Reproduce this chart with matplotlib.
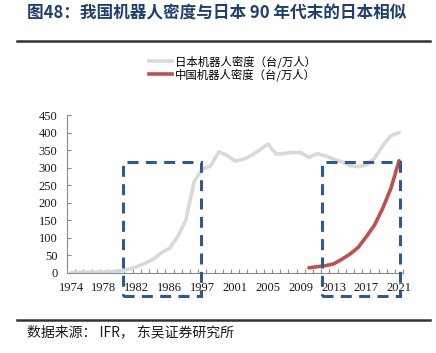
import matplotlib
matplotlib.use('Agg')
from matplotlib import pyplot as plt
from matplotlib.patches import Rectangle
from matplotlib.lines import Line2D
import numpy as np

plt.rcParams['font.family'] = ['Noto Sans CJK SC', 'DejaVu Sans']

TITLE = '图48：我国机器人密度与日本 90 年代末的日本相似'
SOURCE = '数据来源： IFR， 东吴证券研究所'
JAPAN_LABEL = '日本机器人密度（台/万人）'
CHINA_LABEL = '中国机器人密度（台/万人）'

# 41 categories: 1974..1988, 1996, 1997..2021
years = [str(y) for y in list(range(1974, 1987)) + [1987, 1988, 1996] + list(range(1997, 2022))]

japan_density = [0, 1, 1, 2, 2, 3, 5, 10, 17, 27, 38, 57, 70, 103, 151, 260,
                 296, 305, 345, 336, 319, 324, 335, 351, 368, 339, 341, 344,
                 343, 330, 340, 334, 325, 317, 306, 303, 308, 327, 363, 392, 400]
china_years = [str(y) for y in range(2010, 2022)]
china_density = [14, 17, 20, 25, 38, 53, 72, 103, 136, 184, 241, 320]

tick_years = ['1974', '1978', '1982', '1986', '1997', '2001', '2005', '2009',
              '2013', '2017', '2021']

# highlighted periods (category index range, value range)
box_ranges = [(6.3, 15.8), (30.6, 40.1)]
box_values = (-66, 316)

BOX_COLOR = '#2F5A8C'
GREY = '#D9D9D9'
RED = '#C0504D'


def main():
    fig = plt.figure(figsize=(4.36, 3.53), dpi=100)
    ax = fig.add_axes([67 / 436, 1 - 272.7 / 353, 336.2 / 436, 157.4 / 353])

    x_all = np.arange(len(years))
    china_x = [years.index(y) for y in china_years]

    ax.plot(x_all, japan_density, color=GREY, lw=2.6, solid_capstyle='round', zorder=2)
    ax.plot(china_x, china_density, color=RED, lw=2.6, solid_capstyle='round', zorder=3)

    for x0, x1 in box_ranges:
        rect = Rectangle((x0, box_values[0]), x1 - x0, box_values[1] - box_values[0],
                         fill=False, edgecolor=BOX_COLOR, lw=2.2,
                         linestyle=(0, (3.6, 2.4)), clip_on=False, zorder=4)
        ax.add_patch(rect)

    ax.set_xlim(-0.5, len(years) - 0.5)
    ax.set_ylim(0, 450)
    ax.set_yticks(range(0, 451, 50))
    ax.set_xticks([years.index(y) for y in tick_years])
    ax.set_xticklabels(tick_years)
    ax.set_xticks(np.arange(0.5, len(years), 1.0), minor=True)

    for sp in ['top', 'right']:
        ax.spines[sp].set_visible(False)
    for sp in ['left', 'bottom']:
        ax.spines[sp].set_color('#8C8C8C')
        ax.spines[sp].set_linewidth(0.8)

    ax.tick_params(axis='x', which='major', length=0, pad=7)
    ax.tick_params(axis='x', which='minor', direction='in', length=3, color='#8C8C8C', width=0.8)
    ax.tick_params(axis='y', direction='in', length=3, color='#8C8C8C', width=0.8, pad=7)
    for lab in ax.get_xticklabels() + ax.get_yticklabels():
        lab.set_family('Liberation Serif')
        lab.set_fontsize(9)
        lab.set_color('#1A1A1A')

    # legend
    handles = [Line2D([], [], color=GREY, lw=2.6), Line2D([], [], color=RED, lw=2.6)]
    fig.legend(handles, [JAPAN_LABEL, CHINA_LABEL], loc='upper left',
               bbox_to_anchor=(149 / 436, 1 - 55 / 353), frameon=False,
               fontsize=8.2, handlelength=2.0, handletextpad=0.3,
               labelspacing=0.05, borderpad=0, borderaxespad=0)

    # title and rules
    fig.text(27 / 436, 1 - 13 / 353, TITLE, fontsize=12, fontweight='bold',
             color='#1F3F6E', va='center', ha='left')
    for yy in [40.5, 319.5]:
        fig.add_artist(Line2D([17 / 436, 430 / 436], [1 - yy / 353] * 2,
                              color='#333333', lw=1.8, transform=fig.transFigure))
    fig.text(27 / 436, 1 - 332 / 353, SOURCE, fontsize=10, color='#1A1A1A',
             va='center', ha='left')

    fig.savefig('out.png', dpi=100, facecolor='white')
    plt.close('all')


if __name__ == '__main__':
    main()
